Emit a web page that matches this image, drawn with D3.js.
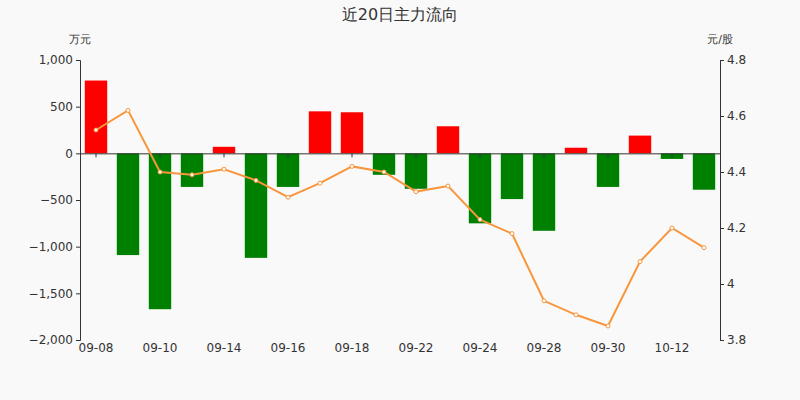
<!DOCTYPE html>
<html><head><meta charset="utf-8">
<script src="https://cdn.jsdelivr.net/npm/d3@7"></script>
<style>body{margin:0;background:#f9f9f9}text{font-family:"DejaVu Sans",sans-serif}</style>
</head><body><svg id="c" width="800" height="400"></svg>
<script>
var dates = ['09-08','09-09','09-10','09-13','09-14','09-15','09-16','09-17','09-18','09-21','09-22','09-23','09-24','09-27','09-28','09-29','09-30','10-11','10-12','10-13']
var flows = [780,-1090,-1670,-360,70,-1120,-360,450,440,-230,-380,290,-750,-490,-830,60,-360,190,-60,-390]
var prices = [4.55,4.62,4.40,4.39,4.41,4.37,4.31,4.36,4.42,4.40,4.33,4.35,4.23,4.18,3.94,3.89,3.85,4.08,4.20,4.13]
var leftTicks = [1000,500,0,-500,-1000,-1500,-2000]
var rightTicks = [4.8,4.6,4.4,4.2,4,3.8]

var svg = d3.select('#c')
svg.append('rect').attr('width',800).attr('height',400).attr('fill','#f9f9f9')
var x = d3.scaleBand().domain(dates).range([80,720]).paddingInner(0.3).paddingOuter(0.15)
var y = d3.scaleLinear().domain([-2000,1000]).range([340,60])
var y2 = d3.scaleLinear().domain([3.8,4.8]).range([340,60])
var fmt = d3.format(',')

svg.append('text').attr('x',400).attr('y',20).attr('text-anchor','middle').attr('font-size',16).attr('fill','#333').text('近20日主力流向')
svg.append('text').attr('x',80).attr('y',43).attr('text-anchor','middle').attr('font-size',11).attr('fill','#333').text('万元')
svg.append('text').attr('x',720).attr('y',43).attr('text-anchor','middle').attr('font-size',11).attr('fill','#333').text('元/股')

var la = svg.append('g').attr('transform','translate(80,0)').call(d3.axisLeft(y).tickValues(leftTicks).tickFormat(fmt).tickSize(4))
var ra = svg.append('g').attr('transform','translate(720,0)').call(d3.axisRight(y2).tickValues(rightTicks).tickFormat(function(d){return d}).tickSize(4))
;[la,ra].forEach(function(a){a.selectAll('path,line').attr('stroke','#333');a.selectAll('text').attr('fill','#333').attr('font-size',12)})

svg.selectAll('.bar').data(flows).enter().append('rect')
	.attr('x',function(d,i){return x(dates[i])})
	.attr('width',x.bandwidth())
	.attr('y',function(d){return y(Math.max(0,d))})
	.attr('height',function(d){return Math.abs(y(d)-y(0))})
	.attr('fill',function(d){return d>=0?'#ff0000':'#008000'})

var xa = svg.append('g').attr('transform','translate(0,'+y(0)+')')
	.call(d3.axisBottom(x).tickValues(dates.filter(function(d,i){return i%2==0})).tickSize(4))
xa.selectAll('path,line').attr('stroke','#333')
xa.selectAll('text').attr('y',190).attr('fill','#333').attr('font-size',12)

var line = d3.line().x(function(d,i){return x(dates[i])+x.bandwidth()/2}).y(function(d){return y2(d)})
svg.append('path').datum(prices).attr('d',line).attr('fill','none').attr('stroke','#f7963c').attr('stroke-width',2)
svg.selectAll('.pt').data(prices).enter().append('circle')
	.attr('cx',function(d,i){return x(dates[i])+x.bandwidth()/2}).attr('cy',function(d){return y2(d)})
	.attr('r',2).attr('fill','#fff').attr('stroke','#f7963c')
</script></body></html>
